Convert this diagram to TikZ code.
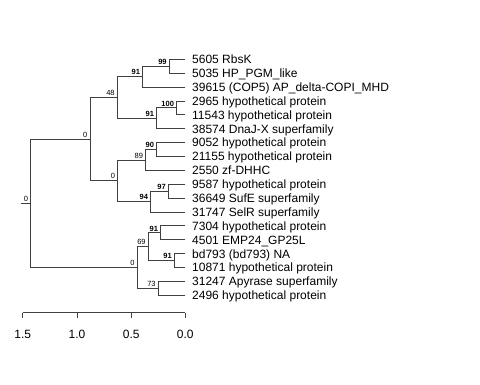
\documentclass[tikz,border=0pt]{standalone}
\usepackage{fontspec}
\setmainfont{Liberation Sans}
\begin{document}
\begin{tikzpicture}[x=1pt,y=-1pt,
  br/.style={draw=black!75,line width=0.8pt},
  leaf/.style={anchor=base west,inner sep=0pt,font=\fontsize{12}{14}\selectfont},
  lbl/.style={anchor=south east,inner sep=0pt,font=\fontsize{7.5}{9}\selectfont},
  axlbl/.style={anchor=base,inner sep=0pt,font=\fontsize{12}{14}\selectfont}]
\useasboundingbox (0,0) rectangle (480,384);
% internal nodes
\coordinate (rs) at (20.7,203.3);
\coordinate (root) at (30.7,203.3);
\coordinate (nU) at (90,139.1);
\coordinate (n48) at (117.3,97.5);
\coordinate (n91a) at (142.7,76.7);
\coordinate (n99) at (169.3,66.25);
\coordinate (n91b) at (156.7,118.3);
\coordinate (n100) at (176.7,107.85);
\coordinate (n0b) at (117.7,180.75);
\coordinate (n89) at (145.7,159.9);
\coordinate (n90) at (156.7,149.55);
\coordinate (n94) at (150.7,201.6);
\coordinate (n97) at (168.5,191.15);
\coordinate (nL) at (137.3,267.5);
\coordinate (n69) at (148.3,246.7);
\coordinate (n91c) at (160.7,232.8);
\coordinate (n91d) at (174.5,260.55);
\coordinate (n73) at (158.3,288.35);
% leaves
\foreach \i/\t in {0/{5605 RbsK},1/{5035 HP\_PGM\_like},2/{39615 (COP5) AP\_delta-COPI\_MHD},
  3/{2965 hypothetical protein},4/{11543 hypothetical protein},5/{38574 DnaJ-X superfamily},
  6/{9052 hypothetical protein},7/{21155 hypothetical protein},8/{2550 zf-DHHC},
  9/{9587 hypothetical protein},10/{36649 SufE superfamily},11/{31747 SelR superfamily},
  12/{7304 hypothetical protein},13/{4501 EMP24\_GP25L},14/{bd793 (bd793) NA},
  15/{10871 hypothetical protein},16/{31247 Apyrase superfamily},17/{2496 hypothetical protein}}{
  \coordinate (l\i) at (185.3,{59.3+13.88*\i});
  \node[leaf] (t\i) at (192,{59.3+13.88*\i+4.4}) {\t};
}
% branches
\draw[br] (rs) -- (root);
\draw[br] (root) |- (nU);
\draw[br] (root) |- (nL);
\draw[br] (nU) |- (n48);
\draw[br] (nU) |- (n0b);
\draw[br] (n48) |- (n91a);
\draw[br] (n48) |- (n91b);
\draw[br] (n91a) |- (n99);
\draw[br] (n91a) |- (l2);
\draw[br] (n99) |- (l0);
\draw[br] (n99) |- (l1);
\draw[br] (n91b) |- (n100);
\draw[br] (n91b) |- (l5);
\draw[br] (n100) |- (l3);
\draw[br] (n100) |- (l4);
\draw[br] (n0b) |- (n89);
\draw[br] (n0b) |- (n94);
\draw[br] (n89) |- (n90);
\draw[br] (n89) |- (l8);
\draw[br] (n90) |- (l6);
\draw[br] (n90) |- (l7);
\draw[br] (n94) |- (n97);
\draw[br] (n94) |- (l11);
\draw[br] (n97) |- (l9);
\draw[br] (n97) |- (l10);
\draw[br] (nL) |- (n69);
\draw[br] (nL) |- (n73);
\draw[br] (n69) |- (n91c);
\draw[br] (n69) |- (n91d);
\draw[br] (n91c) |- (l12);
\draw[br] (n91c) |- (l13);
\draw[br] (n91d) |- (l14);
\draw[br] (n91d) |- (l15);
\draw[br] (n73) |- (l16);
\draw[br] (n73) |- (l17);
% node labels
\foreach \n/\v in {root/0,nU/0,n48/48,n0b/0,n89/89,nL/0,n69/69,n73/73}{
  \node[lbl] at ([shift={(-2.5,-1.5)}]\n) {\v};
}
\foreach \n/\v in {n91a/91,n99/99,n91b/91,n100/100,n90/90,n94/94,n97/97,n91c/91,n91d/91}{
  \node[lbl] at ([shift={(-2.5,-1.5)}]\n) {\textbf{\v}};
}
% axis
\coordinate (a15) at (22.7,312.7);
\coordinate (a10) at (77.0,312.7);
\coordinate (a05) at (131.2,312.7);
\coordinate (a00) at (185.3,312.7);
\draw[br] (a15) -- (a00);
\foreach \c/\v in {a15/1.5,a10/1.0,a05/0.5,a00/0.0}{
  \draw[br] (\c) -- ++(0,5.5);
  \node[axlbl] at ([shift={(0,25.5)}]\c) {\v};
}
\end{tikzpicture}
\end{document}
